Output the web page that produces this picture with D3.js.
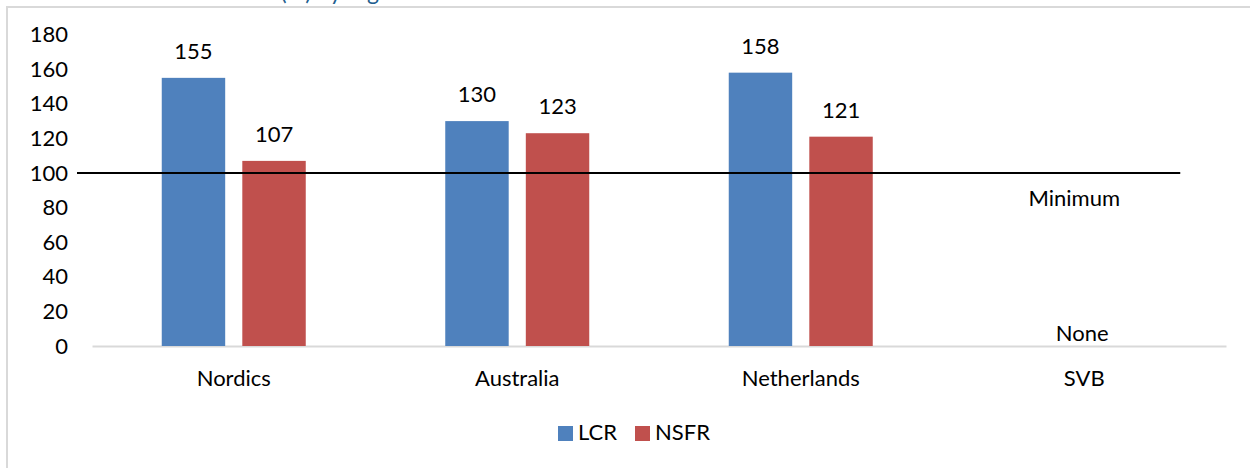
<!DOCTYPE html>
<html>
<head>
<meta charset="utf-8">
<script src="https://cdn.jsdelivr.net/npm/d3@7/dist/d3.min.js"></script>
<style>
  html, body { margin: 0; padding: 0; background: #ffffff; }
  svg { display: block; }
  text { font-family: Lato, "Open Sans", sans-serif; fill: #000; }
</style>
</head>
<body>
<svg id="chart" width="1250" height="468"></svg>
<script>
// Liquidity ratios by region
const categories = ["Nordics", "Australia", "Netherlands", "SVB"];
const seriesNames = ["LCR", "NSFR"];
const lcrValues = [155, 130, 158, null];
const nsfrValues = [107, 123, 121, null];
const yTicks = [0, 20, 40, 60, 80, 100, 120, 140, 160, 180];
const minimumLevel = 100;
const minimumLabel = "Minimum";
const noneLabel = "None";
const titleText = "Ratios (%) by region";

const colors = { LCR: "#4F81BD", NSFR: "#C0504D" };
const fontSize = 22;

const svg = d3.select("#chart");

// Outer frame
svg.append("line").attr("x1", 6).attr("x2", 1250).attr("y1", 7).attr("y2", 7)
  .attr("stroke", "#d9d9d9").attr("stroke-width", 2);
svg.append("line").attr("x1", 7).attr("x2", 7).attr("y1", 6).attr("y2", 468)
  .attr("stroke", "#d9d9d9").attr("stroke-width", 2);

// Title sits above the frame edge
svg.append("text").attr("x", 212).attr("y", 0)
  .attr("font-size", 23).style("fill", "#1F5F8F").text(titleText);

const plot = { left: 92, right: 1226, top: 34.6, bottom: 346 };

const x = d3.scaleBand().domain(categories).range([plot.left, plot.right]).padding(0);
const groupWidth = 144;
const x1 = d3.scaleBand().domain(seriesNames)
  .range([x.bandwidth() / 2 - groupWidth / 2, x.bandwidth() / 2 + groupWidth / 2])
  .paddingInner(0.2125).paddingOuter(0);
const y = d3.scaleLinear().domain([0, 180]).range([plot.bottom, plot.top]);

// Y tick labels
const yAxis = d3.axisLeft(y).tickValues(yTicks).tickSize(0).tickPadding(0);
const gy = svg.append("g").attr("transform", `translate(68,0)`).call(yAxis);
gy.select(".domain").remove();
gy.selectAll("text").attr("font-size", fontSize).attr("font-family", "Lato, 'Open Sans', sans-serif")
  .style("fill", "#000");

// X axis
const xAxis = d3.axisBottom(x).tickSize(0).tickPadding(0);
const gx = svg.append("g").attr("transform", `translate(0,${plot.bottom})`).call(xAxis);
gx.select(".domain").attr("stroke", "#d9d9d9").attr("stroke-width", 2);
gx.selectAll("text").attr("font-size", fontSize).attr("font-family", "Lato, 'Open Sans', sans-serif")
  .attr("dy", "0").attr("y", 40).style("fill", "#000");

// Bars
const rows = categories.map((c, i) => ({ category: c, LCR: lcrValues[i], NSFR: nsfrValues[i] }));
const groups = svg.append("g").selectAll("g").data(rows).join("g")
  .attr("transform", d => `translate(${x(d.category)},0)`);

const barData = d => seriesNames.filter(s => d[s] != null).map(s => ({ key: s, value: d[s] }));

groups.selectAll("rect").data(barData).join("rect")
  .attr("x", d => x1(d.key))
  .attr("width", x1.bandwidth())
  .attr("y", d => y(d.value))
  .attr("height", d => y(0) - y(d.value))
  .attr("fill", d => colors[d.key]);

groups.selectAll("text.value").data(barData).join("text")
  .attr("class", "value")
  .attr("x", d => x1(d.key) + x1.bandwidth() / 2)
  .attr("y", d => y(d.value) - 19)
  .attr("text-anchor", "middle")
  .attr("font-size", fontSize)
  .text(d => d.value);

// Minimum reference line
const svbCenter = x("SVB") + x.bandwidth() / 2;
svg.append("line")
  .attr("x1", plot.left - 15).attr("x2", svbCenter + 96)
  .attr("y1", y(minimumLevel)).attr("y2", y(minimumLevel))
  .attr("stroke", "#000").attr("stroke-width", 2);

svg.append("text").attr("x", svbCenter - 10).attr("y", y(minimumLevel) + 33)
  .attr("text-anchor", "middle").attr("font-size", fontSize).text(minimumLabel);
svg.append("text").attr("x", svbCenter - 2).attr("y", y(0) - 5)
  .attr("text-anchor", "middle").attr("font-size", fontSize).text(noneLabel);

// Legend
const legendX = [558, 635];
const legend = svg.append("g").selectAll("g").data(seriesNames).join("g")
  .attr("transform", (d, i) => `translate(${legendX[i]},426)`);
legend.append("rect").attr("width", 15).attr("height", 15).attr("fill", d => colors[d]);
legend.append("text").attr("x", 20).attr("y", 14).attr("font-size", fontSize).text(d => d);
</script>
</body>
</html>
